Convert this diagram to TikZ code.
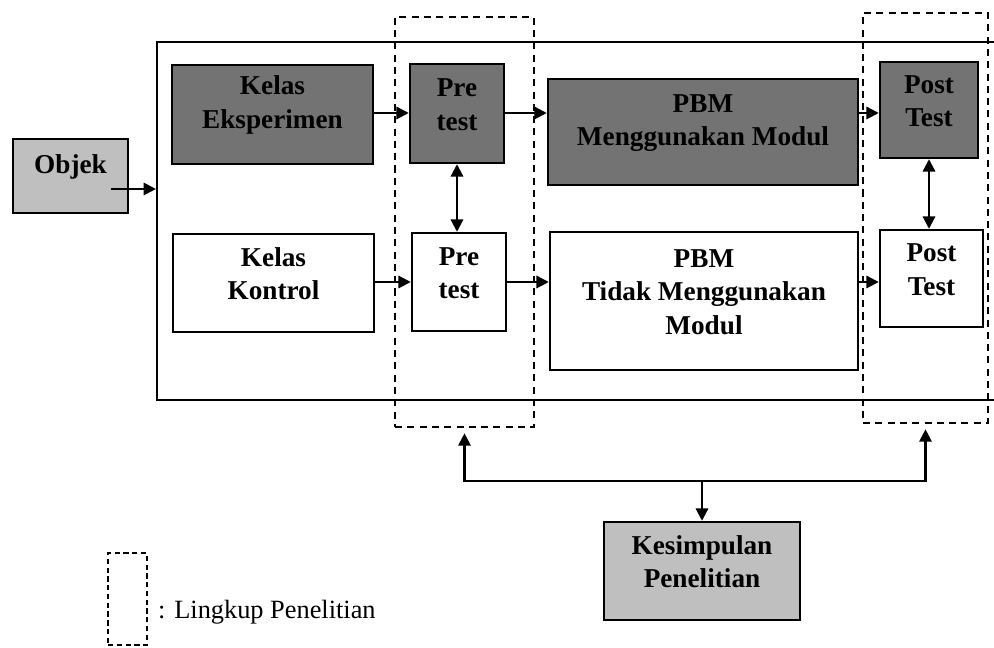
\documentclass[tikz,border=0pt]{standalone}
\usepackage{fontspec}
\setmainfont{Liberation Serif}
\usetikzlibrary{arrows.meta,fit}

\begin{document}
\begin{tikzpicture}
[x=0.2mm,y=-0.2mm,
  darkbox/.style={draw,line width=1.4pt,fill=black!55,inner sep=0pt,align=center,%
    font=\fontsize{15.5}{19}\selectfont\bfseries},
  lightbox/.style={darkbox,fill=black!25},
  whitebox/.style={darkbox,fill=white},
  scopedecorate/.style={draw,line width=1.2pt,dash pattern=on 4pt off 3pt,inner sep=0pt},
  linedecorate/.style={line width=1.2pt,-{Triangle[length=7pt,width=7pt]}},
  bothdecorate/.style={line width=1.2pt,{Triangle[length=7pt,width=7pt]}-{Triangle[length=7pt,width=7pt]}}]
\useasboundingbox (0,0) rectangle (994,648);
%% frame and research scope
\node (frame) [draw,line width=1.2pt,inner sep=0pt,fit={(157,42) (1002,400)}] {};
\node (scopeA) [scopedecorate,fit={(395,17) (534,427)}] {};
\node (scopeB) [scopedecorate,fit={(863,13) (988,423)}] {};
%% nodes or boxes
\foreach \nodename/\xa/\ya/\xb/\yb/\kind/\name in {
  objek/13/139/128/213/lightbox/Objek,
  eksperimen/172/65/373/164/darkbox/{Kelas\\Eksperimen},
  preA/410/64/504/163/darkbox/{Pre\\test},
  pbmA/548/79/858/185/darkbox/{PBM\\Menggunakan Modul},
  postA/880/62/978/158/darkbox/{Post\\Test},
  kontrol/173/234/374/332/whitebox/{Kelas\\Kontrol},
  preB/412/233/506/331/whitebox/{Pre\\test},
  pbmB/550/232/858/370/whitebox/{PBM\\Tidak Menggunakan\\Modul},
  postB/880/230/983/327/whitebox/{Post\\Test},
  kesimpulan/604/522/800/620/lightbox/{Kesimpulan\\Penelitian}} {
  \node (\nodename) [\kind,fit={(\xa,\ya) (\xb,\yb)}] {\name};
}
%% edges or arrows
\coordinate (rowA) at (0,113);
\coordinate (rowB) at (0,282);
\foreach \startnode/\endnode/\row in {eksperimen/preA/rowA, preA/pbmA/rowA,
  pbmA/postA/rowA, kontrol/preB/rowB, preB/pbmB/rowB, pbmB/postB/rowB} {
  \draw[linedecorate] (\startnode.east |- \row) -- (\endnode.west |- \row);
}
\coordinate (start) at ([xshift=-3.6mm,yshift=-2.6mm]objek.east);
\draw[linedecorate] (start) -- (frame.west |- start);
\draw[bothdecorate] (preA.south) -- (preA.south |- preB.north);
\draw[bothdecorate] (postA.south) -- (postA.south |- postB.north);
\coordinate (join) at (702,481);
\draw[linedecorate,shorten >=3pt] (join) -| (scopeA.south);
\draw[linedecorate,shorten >=3pt] (join) -| (scopeB.south);
\draw[linedecorate] (join) -- (kesimpulan.north);
%% legend
\node (legend) [scopedecorate,line width=0.8pt,dash pattern=on 3pt off 2pt,
  fit={(108,553) (147,645)}] {};
\node (legendtext) [anchor=west,font=\fontsize{15}{18}\selectfont] at (152,612)
  {: Lingkup Penelitian};
\end{tikzpicture}
\end{document}
